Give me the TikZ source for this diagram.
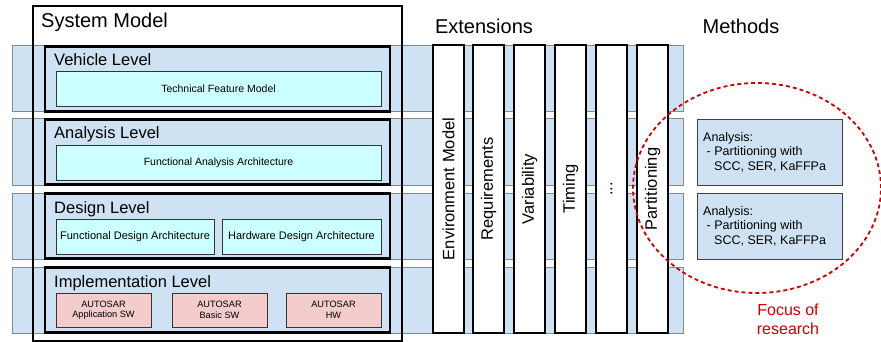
\documentclass[tikz,border=0pt]{standalone}
\usepackage{fontspec}
\setmainfont{Liberation Sans}
\usetikzlibrary{shapes.geometric}
\definecolor{bandblue}{HTML}{CFE2F3}
\definecolor{bandline}{HTML}{7F8A94}
\definecolor{lcyan}{HTML}{CCFFFF}
\definecolor{lpink}{HTML}{F4CCCC}
\definecolor{focusred}{HTML}{CC0000}
\begin{document}
\begin{tikzpicture}[x=1pt,y=-1pt,
  band/.style={draw=bandline,fill=bandblue,line width=1pt,minimum width=671pt,minimum height=66pt,inner sep=0pt},
  levelbox/.style={draw=black,fill=bandblue,line width=2.4pt,minimum width=345pt,minimum height=65pt,inner sep=0pt},
  levellabel/.style={anchor=base west,inner sep=0pt,font=\fontsize{16.5}{18}\selectfont},
  title/.style={anchor=base,inner sep=0pt,font=\fontsize{20}{22}\selectfont},
  innerbox/.style={draw=black!80,fill=lcyan,line width=0.8pt,minimum height=35pt,inner sep=0pt,font=\fontsize{10.5}{12}\selectfont},
  autobox/.style={draw=black!80,fill=lpink,line width=0.8pt,minimum width=95pt,minimum height=34pt,inner sep=0pt,align=center,font=\fontsize{9.2}{10.5}\selectfont},
  extcol/.style={draw=black,fill=white,line width=2.4pt,minimum width=31pt,minimum height=288pt,inner sep=0pt},
  exttext/.style={rotate=90,inner sep=0pt,font=\fontsize{16.5}{18}\selectfont},
  methbox/.style={draw=black!75,fill=bandblue,line width=0.9pt,minimum width=145pt,minimum height=66pt,inner sep=0pt},
  methtext/.style={anchor=west,inner sep=0pt,align=left,font=\fontsize{12.5}{14.5}\selectfont}
]
\useasboundingbox (0,0) rectangle (881,342);
% bands
\node[band] (b1) at (347.5,78.5) {};
\node[band] (b2) at (347.5,152) {};
\node[band] (b3) at (347.5,226) {};
\node[band] (b4) at (347.5,300) {};
% level boxes
\node[levelbox] (l1) at (217.5,79) {};
\node[levelbox] (l2) at (217.5,152) {};
\node[levelbox] (l3) at (217.5,226) {};
\node[levelbox] (l4) at (217.5,300) {};
% system model
\node[draw=black,line width=2pt,minimum width=369pt,minimum height=335pt,inner sep=0pt] (sys) at (217.5,173.5) {};
\node[anchor=base west,inner sep=0pt,font=\fontsize{20}{22}\selectfont] (systitle) at (41,28) {System Model};
% level labels
\node[levellabel] (t1) at (54,66) {Vehicle Level};
\node[levellabel] (t2) at (54,139) {Analysis Level};
\node[levellabel] (t3) at (54,213.5) {Design Level};
\node[levellabel] (t4) at (54,287.5) {Implementation Level};
% inner boxes
\node[innerbox,minimum width=325pt] (tfm) at (218.5,88.5) {Technical Feature Model};
\node[innerbox,minimum width=325pt] (faa) at (218.5,162.5) {Functional Analysis Architecture};
\node[innerbox,minimum width=158pt,font=\fontsize{11}{12}\selectfont] (fda) at (135,236.5) {Functional Design Architecture};
\node[innerbox,minimum width=159pt,font=\fontsize{11}{12}\selectfont] (hda) at (301.5,236.5) {Hardware Design Architecture};
\node[autobox] (asw) at (103.5,310) {AUTOSAR\\Application SW};
\node[autobox] (bsw) at (219.5,310) {AUTOSAR\\Basic SW};
\node[autobox] (hw) at (333.5,310) {AUTOSAR\\HW};
% extensions
\node[title] (exttitle) at (484,34) {Extensions};
\node[extcol] (c1) at (448.5,189) {};
\node[extcol] (c2) at (488.5,189) {};
\node[extcol] (c3) at (529.5,189) {};
\node[extcol] (c4) at (570.5,189) {};
\node[extcol] (c5) at (611.5,189) {};
\node[extcol] (c6) at (652.5,189) {};
\node[exttext] (e1) at (c1) {Environment Model};
\node[exttext] (e2) at (c2) {Requirements};
\node[exttext] (e3) at (c3) {Variability};
\node[exttext] (e4) at (c4) {Timing};
\node[exttext] (e5) at (c5) {...};
\node[exttext] (e6) at (c6) {Partitioning};
% methods
\node[title] (methtitle) at (741,34) {Methods};
\node[methbox] (m1) at (769.5,152) {};
\node[methbox] (m2) at (769.5,226) {};
\node[methtext] (mt1) at (703,152) {Analysis:\\\ - Partitioning with\\\hspace*{11pt}SCC, SER, KaFFPa};
\node[methtext] (mt2) at (703,226) {Analysis:\\\ - Partitioning with\\\hspace*{11pt}SCC, SER, KaFFPa};
% focus ellipse
\node[ellipse,draw=focusred,dashed,dash pattern=on 4pt off 3pt,line width=1.8pt,minimum width=248pt,minimum height=210pt,inner sep=0pt] (focus) at (757,188) {};
\node[anchor=base,inner sep=0pt,text=focusred,align=center,font=\fontsize{16}{19}\selectfont] (focustext) at (788,315) {Focus of};
\node[anchor=base,inner sep=0pt,text=focusred,font=\fontsize{16}{19}\selectfont] (focustext2) at (788,334) {research};
\end{tikzpicture}
\end{document}
